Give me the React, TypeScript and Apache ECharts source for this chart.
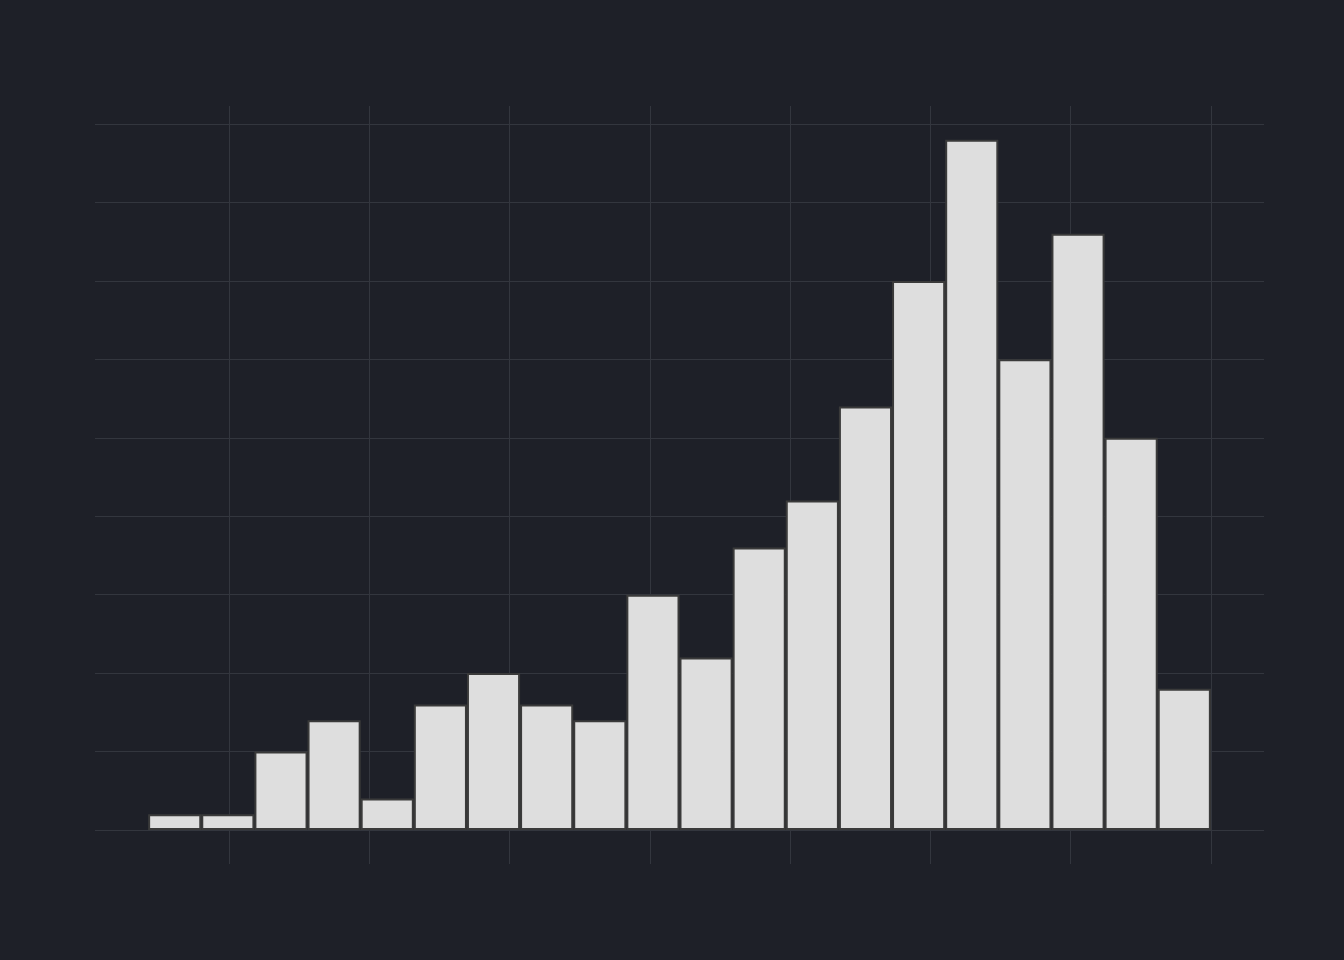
import React, { useEffect, useRef } from "react";
import * as echarts from "echarts";

const counts = [1, 1, 5, 7, 2, 8, 10, 8, 7, 15, 11, 18, 21, 27, 35, 44, 30, 38, 25, 9];
const bins = ["", ...counts.map((_, i) => "bin" + (i + 1)), " "];
const values: any[] = ["-", ...counts, "-"];

export default function App() {
  const ref = useRef<HTMLDivElement>(null);
  useEffect(() => {
    document.body.style.margin = "0";
    document.body.style.background = "#1e2028";
    const chart = echarts.init(ref.current!, undefined, { renderer: "svg" });
    const gl = { lineStyle: { color: "#33363e", width: 1 } };
    chart.setOption({
      animation: false,
      backgroundColor: "#1e2028",
      grid: [
        { left: 95, top: 124, width: 1169, height: 706 },
        { left: 229, top: 106, width: 982, height: 758 },
      ],
      xAxis: [
        { type: "category", data: bins, gridIndex: 0, axisLine: { show: false }, axisTick: { show: false }, axisLabel: { show: false } },
        { type: "value", gridIndex: 1, min: 0, max: 7, interval: 1, axisLine: { show: false }, axisTick: { show: false }, axisLabel: { show: false }, splitLine: { show: true, ...gl } },
      ],
      yAxis: [
        { type: "value", gridIndex: 0, min: 0, max: 45, interval: 5, axisLine: { show: false }, axisTick: { show: false }, axisLabel: { show: false }, splitLine: { show: true, ...gl } },
        { type: "value", gridIndex: 1, min: 0, max: 1, axisLine: { show: false }, axisTick: { show: false }, axisLabel: { show: false }, splitLine: { show: false } },
      ],
      series: [
        {
          type: "bar",
          xAxisIndex: 0,
          yAxisIndex: 0,
          data: values,
          barCategoryGap: "0%",
          itemStyle: { color: "#dedede", borderColor: "#3a3a3a", borderWidth: 2 },
        },
      ],
    });
    return () => chart.dispose();
  }, []);
  return <div ref={ref} style={{ width: 1344, height: 960 }} />;
}
